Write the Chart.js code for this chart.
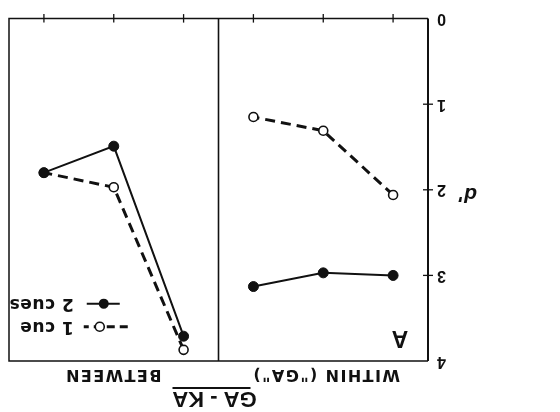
<!DOCTYPE html>
<html>
<head>
<meta charset="utf-8">
<script src="https://cdn.jsdelivr.net/npm/chart.js@4/dist/chart.umd.min.js"></script>
<style>
  html, body { margin: 0; padding: 0; background: #fff; }
  #wrap { width: 560px; height: 412px; transform: rotate(180deg); }
  canvas { display: block; }
</style>
</head>
<body>
<div id="wrap"><canvas id="c" width="560" height="412"></canvas></div>
<script>
// ---- data (the scan is printed upside down) ----
const positionsWithin  = [0.5, 1.5, 2.5];
const positionsBetween = [3.5, 4.5, 5.5];
const withinOneCue   = [2.06, 1.31, 1.15];
const withinTwoCues  = [3.00, 2.97, 3.13];
const betweenOneCue  = [3.87, 1.97, 1.80];
const betweenTwoCues = [3.71, 1.49, 1.80];
const yTicks = [0, 1, 2, 3, 4];
const groupLabels = ['WITHIN ("GA")', 'BETWEEN'];
const contrastLabel = 'GA - KA';
const panelLabel = 'A';
const seriesNames = ['1 cue', '2 cues'];
const axisTitle = "d'";

const INK = '#111';
const FONT = '"Liberation Sans", Arial, sans-serif';
const HEAVY = '"DejaVu Sans", "Liberation Sans", sans-serif';

function pts(xs, ys) { return xs.map((x, i) => ({ x: x, y: ys[i] })); }

const twoCueStyle = {
  borderColor: INK, borderWidth: 2, pointRadius: 5,
  pointBackgroundColor: INK, pointBorderColor: INK, pointBorderWidth: 1
};
const oneCueStyle = {
  borderColor: INK, borderWidth: 3, borderDash: [10, 6], pointRadius: 4.5,
  pointBackgroundColor: '#fff', pointBorderColor: INK, pointBorderWidth: 1.6
};

const framePlugin = {
  id: 'frame',
  beforeDatasetsDraw(chart) {
    const { ctx, chartArea: a, scales: { x, y } } = chart;
    ctx.save();
    ctx.strokeStyle = INK;
    ctx.lineCap = 'butt';
    ctx.lineWidth = 1.5;
    ctx.beginPath();
    ctx.moveTo(a.left, a.top); ctx.lineTo(a.right, a.top);
    ctx.lineTo(a.right, a.bottom); ctx.lineTo(a.left, a.bottom);
    ctx.stroke();
    ctx.lineWidth = 2;
    ctx.beginPath(); ctx.moveTo(a.left, a.top); ctx.lineTo(a.left, a.bottom); ctx.stroke();
    const xd = x.getPixelForValue(3);
    ctx.lineWidth = 1.6;
    ctx.beginPath(); ctx.moveTo(xd, a.top); ctx.lineTo(xd, a.bottom); ctx.stroke();
    ctx.lineWidth = 1.3;
    positionsWithin.concat(positionsBetween).forEach(v => {
      const px = x.getPixelForValue(v);
      ctx.beginPath(); ctx.moveTo(px, a.bottom - 4); ctx.lineTo(px, a.bottom + 4.5); ctx.stroke();
    });
    yTicks.slice(1, -1).forEach(v => {
      const py = y.getPixelForValue(v);
      ctx.beginPath(); ctx.moveTo(a.left - 5, py); ctx.lineTo(a.left + 5, py); ctx.stroke();
    });
    ctx.restore();
  },
  afterDraw(chart) {
    const { ctx, chartArea: a, scales: { x, y } } = chart;
    ctx.save();
    ctx.fillStyle = INK;
    ctx.strokeStyle = INK;
    ctx.textBaseline = 'middle';
    ctx.textAlign = 'center';
    // group labels above the panels
    ctx.font = 'bold 16px ' + HEAVY;
    ctx.letterSpacing = '1.4px';
    ctx.fillText(groupLabels[0], x.getPixelForValue(1.45) + 0.7, a.top - 13);
    ctx.fillText(groupLabels[1], x.getPixelForValue(4.5) + 0.7, a.top - 13);
    // contrast label, underlined
    ctx.letterSpacing = '0px';
    ctx.font = 'bold 22px ' + FONT;
    const cx = x.getPixelForValue(3) + 4;
    ctx.fillText(contrastLabel, cx, a.top - 37);
    ctx.lineWidth = 2;
    ctx.beginPath(); ctx.moveTo(cx - 36, a.top - 27); ctx.lineTo(cx + 42, a.top - 27); ctx.stroke();
    // panel letter
    ctx.font = 'bold 23px ' + FONT;
    ctx.fillText(panelLabel, a.left + 28, y.getPixelForValue(3.72));
    // axis title d'
    ctx.font = 'bold italic 21px ' + FONT;
    ctx.fillText(axisTitle, a.left - 40, y.getPixelForValue(2.05));
    // legend
    const lx = x.getPixelForValue(4.5);
    const rows = [
      { name: seriesNames[0], yv: 3.6, open: true },
      { name: seriesNames[1], yv: 3.33, open: false }
    ];
    rows.forEach(r => {
      const py = y.getPixelForValue(r.yv);
      ctx.save();
      if (r.open) {
        ctx.lineWidth = 3; ctx.setLineDash([8, 5]);
        ctx.beginPath(); ctx.moveTo(lx - 14, py); ctx.lineTo(lx + 30, py); ctx.stroke();
        ctx.setLineDash([]);
        ctx.beginPath(); ctx.arc(lx + 14, py, 4.5, 0, Math.PI * 2);
        ctx.fillStyle = '#fff'; ctx.fill(); ctx.lineWidth = 1.6; ctx.stroke();
      } else {
        ctx.lineWidth = 2;
        ctx.beginPath(); ctx.moveTo(lx - 6, py); ctx.lineTo(lx + 27, py); ctx.stroke();
        ctx.beginPath(); ctx.arc(lx + 10, py, 5, 0, Math.PI * 2); ctx.fill();
      }
      ctx.restore();
      ctx.textAlign = 'left';
      ctx.font = 'bold 17px ' + HEAVY;
      ctx.letterSpacing = '0.5px';
      ctx.fillText(r.name, lx + 40, py);
    });
    ctx.restore();
  }
};

new Chart(document.getElementById('c'), {
  type: 'line',
  data: {
    datasets: [
      Object.assign({ label: seriesNames[1], data: pts(positionsWithin, withinTwoCues) }, twoCueStyle),
      Object.assign({ label: seriesNames[1], data: pts(positionsBetween, betweenTwoCues) }, twoCueStyle),
      Object.assign({ label: seriesNames[0], data: pts(positionsWithin, withinOneCue) }, oneCueStyle),
      Object.assign({ label: seriesNames[0], data: pts(positionsBetween, betweenOneCue) }, oneCueStyle)
    ]
  },
  options: {
    responsive: false,
    animation: false,
    layout: { padding: { left: 0, right: 9, top: 51, bottom: 18 } },
    plugins: { legend: { display: false }, tooltip: { enabled: false } },
    scales: {
      x: { type: 'linear', min: 0, max: 6, display: false },
      y: {
        type: 'linear', min: 0, max: 4,
        afterBuildTicks(s) { s.ticks = yTicks.map(v => ({ value: v })); },
        afterFit(s) { s.width = 132; },
        grid: { display: false, drawTicks: false },
        border: { display: false },
        ticks: {
          padding: 9, color: INK,
          font: { family: FONT, size: 16, weight: 'bold' }
        }
      }
    }
  },
  plugins: [framePlugin]
});
</script>
</body>
</html>
